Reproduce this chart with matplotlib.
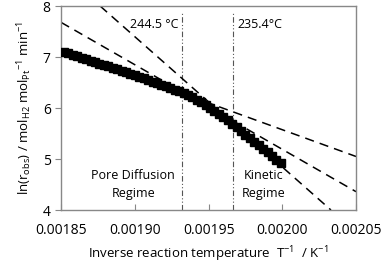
import matplotlib
matplotlib.use("Agg")
import matplotlib.pyplot as plt

plt.rcParams["font.family"] = ["Open Sans", "DejaVu Sans"]
plt.rcParams["mathtext.fontset"] = "custom"
plt.rcParams["mathtext.rm"] = "Open Sans"
plt.rcParams["mathtext.default"] = "regular"

# inverse temperature (1/K) and ln(r_obs)
inv_t = [
    0.001852, 0.001855, 0.001858, 0.001861, 0.001864, 0.001867, 0.001870,
    0.001873, 0.001876, 0.001879, 0.001882, 0.001885, 0.001888, 0.001891,
    0.001894, 0.001897, 0.001900, 0.001903, 0.001906, 0.001909, 0.001912,
    0.001915, 0.001918, 0.001921, 0.001924, 0.001927, 0.001930, 0.001933,
    0.001936, 0.001939, 0.001942, 0.001945, 0.001948, 0.001951, 0.001954,
    0.001957, 0.001960, 0.001963, 0.001966, 0.001969, 0.001972, 0.001975,
    0.001978, 0.001981, 0.001984, 0.001987, 0.001990, 0.001993, 0.001996,
    0.001999,
]
ln_r = [
    7.10, 7.08, 7.05, 7.02, 6.99, 6.96, 6.93, 6.90, 6.87, 6.85,
    6.82, 6.79, 6.76, 6.73, 6.70, 6.67, 6.64, 6.61, 6.58, 6.55,
    6.52, 6.49, 6.46, 6.43, 6.40, 6.36, 6.33, 6.29, 6.25, 6.21,
    6.16, 6.11, 6.06, 6.01, 5.95, 5.89, 5.83, 5.76, 5.69, 5.62,
    5.55, 5.48, 5.41, 5.34, 5.27, 5.20, 5.13, 5.06, 4.99, 4.93,
]

# fitted lines: (x0, x1), (y0, y1)
fit_kinetic = ([0.0018765, 0.002033], [8.0, 4.0])
fit_mid = ([0.00185, 0.00205], [7.68, 4.36])
fit_pore = ([0.00185, 0.00205], [7.15, 5.05])

# transition temperatures
trans_x = [1 / (244.5 + 273.15), 1 / (235.4 + 273.15)]
trans_labels = ["244.5 °C", "235.4°C"]

fig = plt.figure(figsize=(3.82, 2.65), dpi=100)
ax = fig.add_axes([0.160, 0.2075, 0.772, 0.7695])

for xs, ys in (fit_kinetic, fit_mid, fit_pore):
    ax.plot(xs, ys, color="black", lw=1.1, dashes=(6, 4), zorder=2)

ax.plot(inv_t, ln_r, ls="none", marker="s", ms=5.6, color="black", zorder=3)

for xv in trans_x:
    ax.plot([xv, xv], [4, 7.87], color="#555555", lw=0.8,
            dashes=(5, 2, 1, 2, 1, 2), zorder=1)

ax.text(trans_x[0] - 0.000002, 7.64, trans_labels[0], ha="right", va="center", fontsize=9)
ax.text(trans_x[1] + 0.000003, 7.64, trans_labels[1], ha="left", va="center", fontsize=9)

ax.text(0.001899, 4.5, "Pore Diffusion\nRegime", ha="center", va="center", fontsize=9,
        linespacing=1.5)
ax.text(0.001987, 4.5, "Kinetic\nRegime", ha="center", va="center", fontsize=9,
        linespacing=1.5)

ax.set_xlim(0.00185, 0.00205)
ax.set_ylim(4, 8)
ax.set_xticks([0.00185, 0.00190, 0.00195, 0.00200, 0.00205])
ax.set_xticklabels(["0.00185", "0.00190", "0.00195", "0.00200", "0.00205"])
ax.set_yticks([4, 5, 6, 7, 8])
ax.tick_params(axis="x", direction="in", length=4, labelsize=10, color="#888888", pad=9)
ax.tick_params(axis="y", direction="out", length=4, labelsize=10, color="#888888")
for sp in ax.spines.values():
    sp.set_color("#888888")
    sp.set_linewidth(1.0)

ax.set_xlabel("Inverse reaction temperature  T$^{-1}$  / K$^{-1}$", fontsize=9.5, labelpad=5)
ax.set_ylabel("ln(r$_{obs}$) / mol$_{H2}$ mol$_{Pt}$$^{-1}$ min$^{-1}$",
              fontsize=9.5, labelpad=6)

fig.savefig("out.png", dpi=100)
